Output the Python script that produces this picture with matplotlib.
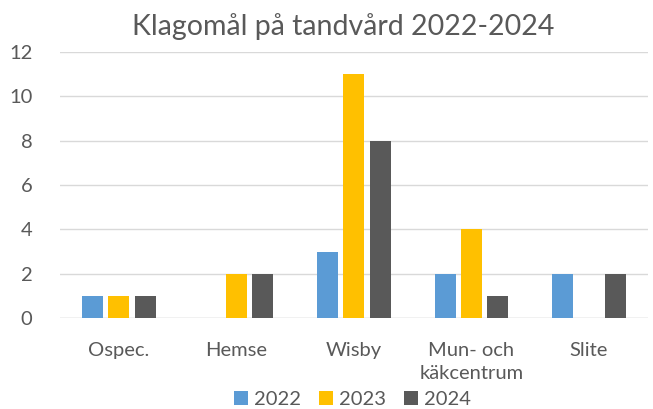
import numpy as np
import matplotlib
matplotlib.use("Agg")
import matplotlib.pyplot as plt

plt.rcParams['font.family'] = ['Lato', 'DejaVu Sans']

categories = ["Ospec.", "Hemse", "Wisby", "Mun- och\nkäkcentrum", "Slite"]
years = ["2022", "2023", "2024"]
v2022 = [1, 0, 3, 2, 2]
v2023 = [1, 2, 11, 4, 0]
v2024 = [1, 2, 8, 1, 2]
colors = ["#5B9BD5", "#FFC000", "#595959"]
txt = "#595959"

fig = plt.figure(figsize=(6.53, 4.09), dpi=100)
ax = fig.add_axes([0.092, 0.222, 0.900, 0.651])

x = np.arange(len(categories))
step = 0.223
width = 0.178
for i, (vals, lab) in enumerate(zip([v2022, v2023, v2024], years)):
    ax.bar(x + (i - 1) * step, vals, width, color=colors[i], label=lab, zorder=3)

ax.set_xlim(-0.5, len(categories) - 0.5)
ax.set_ylim(0, 12)
ax.set_yticks(range(0, 13, 2))
ax.set_xticks(x)
ax.set_xticklabels(categories, fontsize=14.5, color=txt, linespacing=1.45)
ax.tick_params(axis='y', labelsize=14.5, labelcolor=txt, length=0, pad=20)
ax.tick_params(axis='x', length=0, pad=17)
ax.grid(axis='y', color="#D9D9D9", linewidth=1, zorder=0)
for s in ax.spines.values():
    s.set_visible(False)
ax.axhline(0, color="#D9D9D9", linewidth=1, zorder=2)

fig.text(0.525, 0.935, "Klagomål på tandvård 2022-2024", ha='center', va='center',
         fontsize=20.5, color=txt)

leg = fig.legend(loc='lower center', bbox_to_anchor=(0.54, -0.043), ncol=3,
                 frameon=False, fontsize=14.5, handlelength=0.7, handleheight=0.7,
                 handletextpad=0.3, columnspacing=0.9)
for t in leg.get_texts():
    t.set_color(txt)

fig.savefig("out.png", dpi=100)
